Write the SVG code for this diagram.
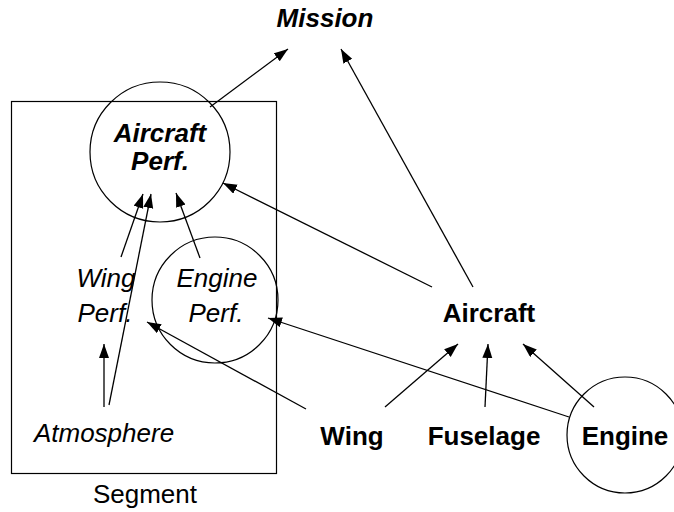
<svg xmlns="http://www.w3.org/2000/svg" width="674" height="512" viewBox="0 0 674 512">
  <style>
    text { font-family: "Liberation Sans", Arial, sans-serif; font-size: 26px; fill: #000; text-anchor: middle; }
    .bi { font-weight: bold; font-style: italic; }
    .b { font-weight: bold; }
    .i { font-style: italic; }
    .shape { fill: none; stroke: #000; stroke-width: 1.2; }
    .edge { fill: none; stroke: #000; stroke-width: 1.3; marker-end: url(#arrow); }
  </style>
  <defs>
    <marker id="arrow" markerUnits="userSpaceOnUse" markerWidth="15" markerHeight="11" refX="14" refY="5" orient="auto">
      <path d="M0,0 L14,5 L0,10 Z" fill="#000"/>
    </marker>
  </defs>
  <rect width="674" height="512" fill="#fff"/>

  <g id="segment">
    <rect class="shape" x="11.5" y="101.5" width="265" height="372"/>
    <text x="145" y="503">Segment</text>
  </g>

  <g id="mission">
    <text class="bi" x="325" y="27">Mission</text>
  </g>

  <g id="aircraft-perf">
    <circle class="shape" cx="160" cy="152" r="70"/>
    <text class="bi" x="160" y="142">Aircraft</text>
    <text class="bi" x="160" y="170">Perf.</text>
  </g>

  <g id="wing-perf">
    <text class="i" x="106" y="287">Wing</text>
    <text class="i" x="105" y="322">Perf.</text>
  </g>

  <g id="engine-perf">
    <circle class="shape" cx="215" cy="300" r="63"/>
    <text class="i" x="217" y="287">Engine</text>
    <text class="i" x="216" y="322">Perf.</text>
  </g>

  <g id="atmosphere">
    <text class="i" x="104" y="442">Atmosphere</text>
  </g>

  <g id="aircraft">
    <text class="b" x="489" y="322">Aircraft</text>
  </g>

  <g id="wing">
    <text class="b" x="352" y="445">Wing</text>
  </g>

  <g id="fuselage">
    <text class="b" x="484" y="445">Fuselage</text>
  </g>

  <g id="engine">
    <circle class="shape" cx="625" cy="435" r="58"/>
    <text class="b" x="625" y="445">Engine</text>
  </g>

  <g id="connectors">
    <line class="edge" x1="210" y1="107" x2="288" y2="49"/>
    <line class="edge" x1="473" y1="287" x2="341" y2="49"/>
    <line class="edge" x1="432" y1="287" x2="223" y2="183"/>
    <line class="edge" x1="121" y1="257" x2="143" y2="194"/>
    <line class="edge" x1="109" y1="405" x2="151" y2="194"/>
    <line class="edge" x1="200" y1="258" x2="176" y2="193"/>
    <line class="edge" x1="104" y1="407" x2="104" y2="344"/>
    <line class="edge" x1="306" y1="409" x2="147" y2="322"/>
    <line class="edge" x1="569" y1="417" x2="268" y2="318"/>
    <line class="edge" x1="385" y1="407" x2="458" y2="344"/>
    <line class="edge" x1="485" y1="407" x2="488" y2="344"/>
    <line class="edge" x1="594" y1="407" x2="523" y2="344"/>
  </g>
</svg>
